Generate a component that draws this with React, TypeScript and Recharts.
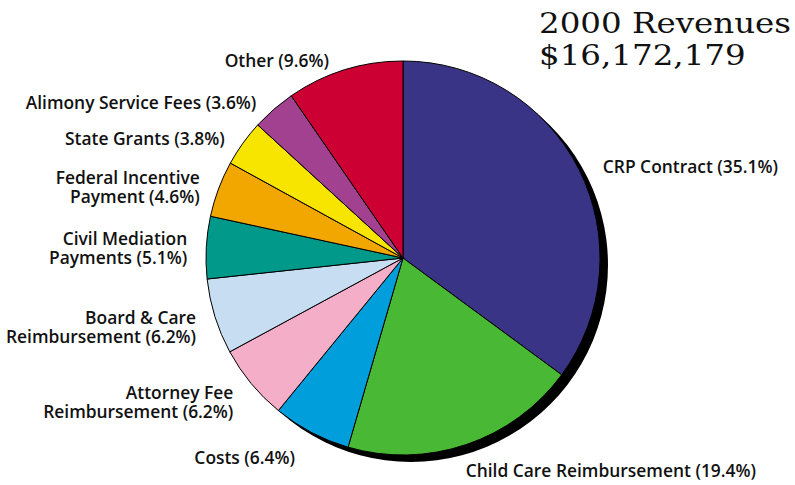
import React from 'react';
import { PieChart, Pie, Cell } from 'recharts';

const categories = [
  'CRP Contract',
  'Child Care Reimbursement',
  'Costs',
  'Attorney Fee\nReimbursement',
  'Board & Care\nReimbursement',
  'Civil Mediation\nPayments',
  'Federal Incentive\nPayment',
  'State Grants',
  'Alimony Service Fees',
  'Other',
];
const shares = [35.1, 19.4, 6.4, 6.2, 6.2, 5.1, 4.6, 3.8, 3.6, 9.6];
const colors = [
  '#3a3487', '#49b935', '#009fdc', '#f5aec7', '#c7ddf2',
  '#00998a', '#f2a700', '#f7e500', '#a2418f', '#cc0033',
];
const titleLines = ['2000 Revenues', '$16,172,179'];

const data = categories.map((name, i) => ({ name, value: shares[i] }));
const shadowData = [{ name: 'shadow', value: 100 }];

const RAD = Math.PI / 180;

const renderLabel = (props: any) => {
  const { cx, cy, midAngle, outerRadius, index } = props;
  const cos = Math.cos(-midAngle * RAD);
  const sin = Math.sin(-midAngle * RAD);
  const r = outerRadius + 19;
  let x = cx + r * cos;
  const y = cy + r * sin + 9 * Math.sqrt(Math.abs(sin)) - 1;
  if (cos > 0) x += 24 * (cos - 0.6);
  else x -= 14 * (1 - Math.abs(cos));
  const anchor = cos >= 0 ? 'start' : 'end';
  const lines = `${categories[index]} (${shares[index].toFixed(1)}%)`.split('\n');
  const lh = 19;
  const top = y - ((lines.length - 1) * lh) / 2;
  return (
    <g key={`lbl-${index}`}>
      {lines.map((ln, i) => (
        <text
          key={i}
          x={x}
          y={top + i * lh}
          textAnchor={anchor}
          dominantBaseline="central"
          fill="#111"
          fontSize={17.4}
          fontWeight={600}
          fontFamily="'Open Sans', sans-serif"
        >
          {ln}
        </text>
      ))}
    </g>
  );
};

export default function App() {
  return (
    <div style={{ position: 'absolute', left: 0, top: 0, width: 795, height: 485, background: '#fff' }}>
      <PieChart width={795} height={485} margin={{ top: 0, right: 0, bottom: 0, left: 0 }}>
        <Pie
          data={shadowData}
          dataKey="value"
          cx={411}
          cy={265}
          outerRadius={197}
          startAngle={90}
          endAngle={-270}
          stroke="none"
          fill="#000"
          isAnimationActive={false}
        />
        <Pie
          data={data}
          dataKey="value"
          nameKey="name"
          cx={403}
          cy={258}
          outerRadius={197}
          startAngle={90}
          endAngle={-270}
          stroke="#000"
          strokeWidth={1}
          label={renderLabel}
          labelLine={false}
          isAnimationActive={false}
        >
          {data.map((d, i) => (
            <Cell key={d.name} fill={colors[i]} />
          ))}
        </Pie>
      </PieChart>
      <div
        style={{
          position: 'absolute',
          left: 539,
          top: 8,
          fontFamily: "'DejaVu Serif', serif",
          fontSize: 28,
          lineHeight: '32px',
          color: '#111',
          transform: 'scaleX(1.16)',
          transformOrigin: 'left top',
          whiteSpace: 'nowrap',
        }}
      >
        {titleLines.map((t) => (
          <div key={t}>{t}</div>
        ))}
      </div>
    </div>
  );
}
